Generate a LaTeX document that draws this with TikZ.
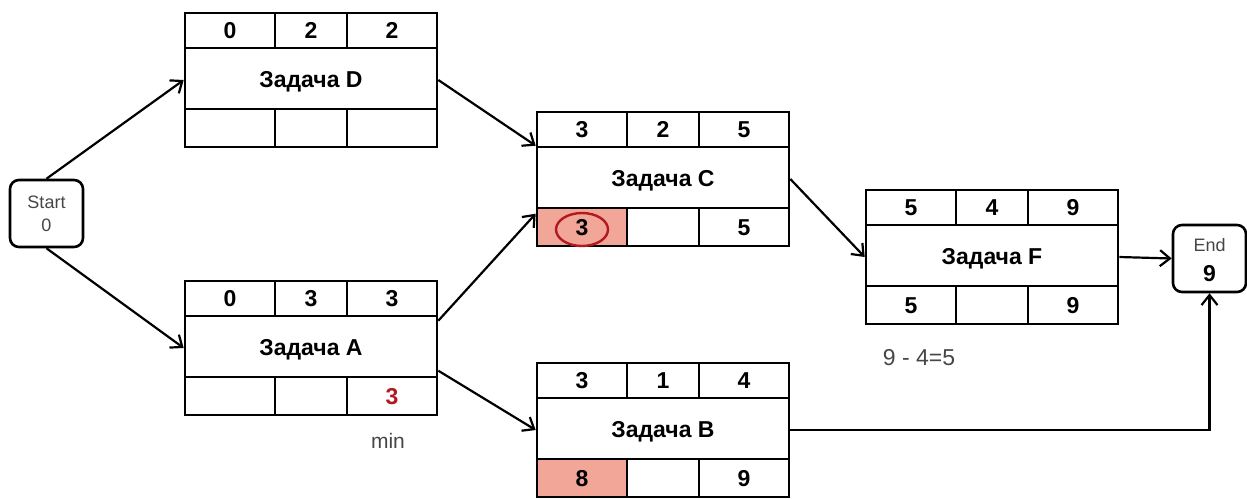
\documentclass[tikz,border=0pt]{standalone}
\usepackage{fontspec}
\setmainfont{Liberation Sans}
\usetikzlibrary{arrows.meta,shapes.geometric}

\definecolor{cellpink}{RGB}{242,166,152}
\definecolor{markred}{RGB}{178,24,32}
\definecolor{notegray}{RGB}{70,70,70}

\tikzset{
  card/.style={draw, line width=2.6pt, minimum width=252pt, minimum height=134pt, inner sep=0pt},
  rule/.style={line width=2.6pt},
  cardtext/.style={font={\fontsize{23}{27}\selectfont\bfseries}, text height=16.5pt, text depth=0pt, inner sep=0pt},
  endpoint/.style={draw, line width=2.6pt, rounded corners=9pt, minimum width=73pt, minimum height=67pt, align=center, inner sep=0pt},
  link/.style={line width=2.2pt, -{Straight Barb[length=10pt,width=16pt]}},
  note/.style={text=notegray, inner sep=0pt},
  markring/.style={draw=markred, ellipse, line width=2.4pt, minimum width=52pt, minimum height=33pt, inner sep=0pt}
}

% Activity card: #1 name, #2 left, #3 top, #4 title,
% #5-#7 early start / duration / early finish, #8 late start, #9 late finish
\newcommand\taskcard[9]{%
  \node[card] (#1) at ({#2+126},{#3+67}) {};
  \draw[rule] ({#2},{#3+35}) -- ({#2+252},{#3+35})
              ({#2},{#3+96}) -- ({#2+252},{#3+96})
              ({#2+90},{#3}) -- ({#2+90},{#3+35})
              ({#2+162},{#3}) -- ({#2+162},{#3+35})
              ({#2+90},{#3+96}) -- ({#2+90},{#3+134})
              ({#2+162},{#3+96}) -- ({#2+162},{#3+134});
  \node[cardtext] (#1-es) at ({#2+45},{#3+17.5}) {#5};
  \node[cardtext] (#1-du) at ({#2+126},{#3+17.5}) {#6};
  \node[cardtext] (#1-ef) at ({#2+207},{#3+17.5}) {#7};
  \node[cardtext] (#1-title) at ({#2+126},{#3+66}) {#4};
  \node[cardtext] (#1-ls) at ({#2+45},{#3+115.5}) {#8};
  \node[cardtext] (#1-lf) at ({#2+207},{#3+115.5}) {#9};
}

\begin{document}
\begin{tikzpicture}[x=1pt, y=-1pt]
  \useasboundingbox (0,0) rectangle (1247,498);

  % highlighted late-start cells
  \fill[cellpink] (537,208) rectangle (627,246);
  \fill[cellpink] (537,459) rectangle (627,497);

  \taskcard{D}{185}{13}{Задача D}{0}{2}{2}{}{}
  \taskcard{A}{185}{281}{Задача A}{0}{3}{3}{}{\textcolor{markred}{3}}
  \taskcard{C}{537}{112}{Задача C}{3}{2}{5}{3}{5}
  \taskcard{B}{537}{363}{Задача B}{3}{1}{4}{8}{9}
  \taskcard{F}{866}{190}{Задача F}{5}{4}{9}{5}{9}

  \node[markring] (C-mark) at (582,229.5) {};

  \node[endpoint, text=notegray, font={\fontsize{18}{23}\selectfont}] (start) at (46.5,213.5) {Start\\0};

  % finish event: frame, caption and project length
  \node[endpoint] (end) at (1209.5,258.5) {};
  \node[note, font={\fontsize{18}{22}\selectfont}, text height=13pt, text depth=0pt] (end-label) at (1209.5,245) {End};
  \node[cardtext] (end-value) at (1209.5,273) {9};

  \node[note, font={\fontsize{21}{25}\selectfont}] (minlabel) at (388,441) {min};
  \node[note, font={\fontsize{23}{27}\selectfont}] (lslabel) at (919,358) {9 - 4=5};

  \draw[link] (start.north) -- (D.west);
  \draw[link] (start.south) -- (A.west);
  \draw[link] (D.east) -- ([yshift=-35pt]C.north west);
  \draw[link] ([yshift=-41pt]A.north east) -- ([yshift=-103pt]C.north west);
  \draw[link] ([yshift=-91pt]A.north east) -- (B.west);
  \draw[link] (C.east) -- (F.west);
  \draw[link] (F.east) -- (end.west);
  \draw[link] (B.east) -| (end.south);
\end{tikzpicture}
\end{document}
